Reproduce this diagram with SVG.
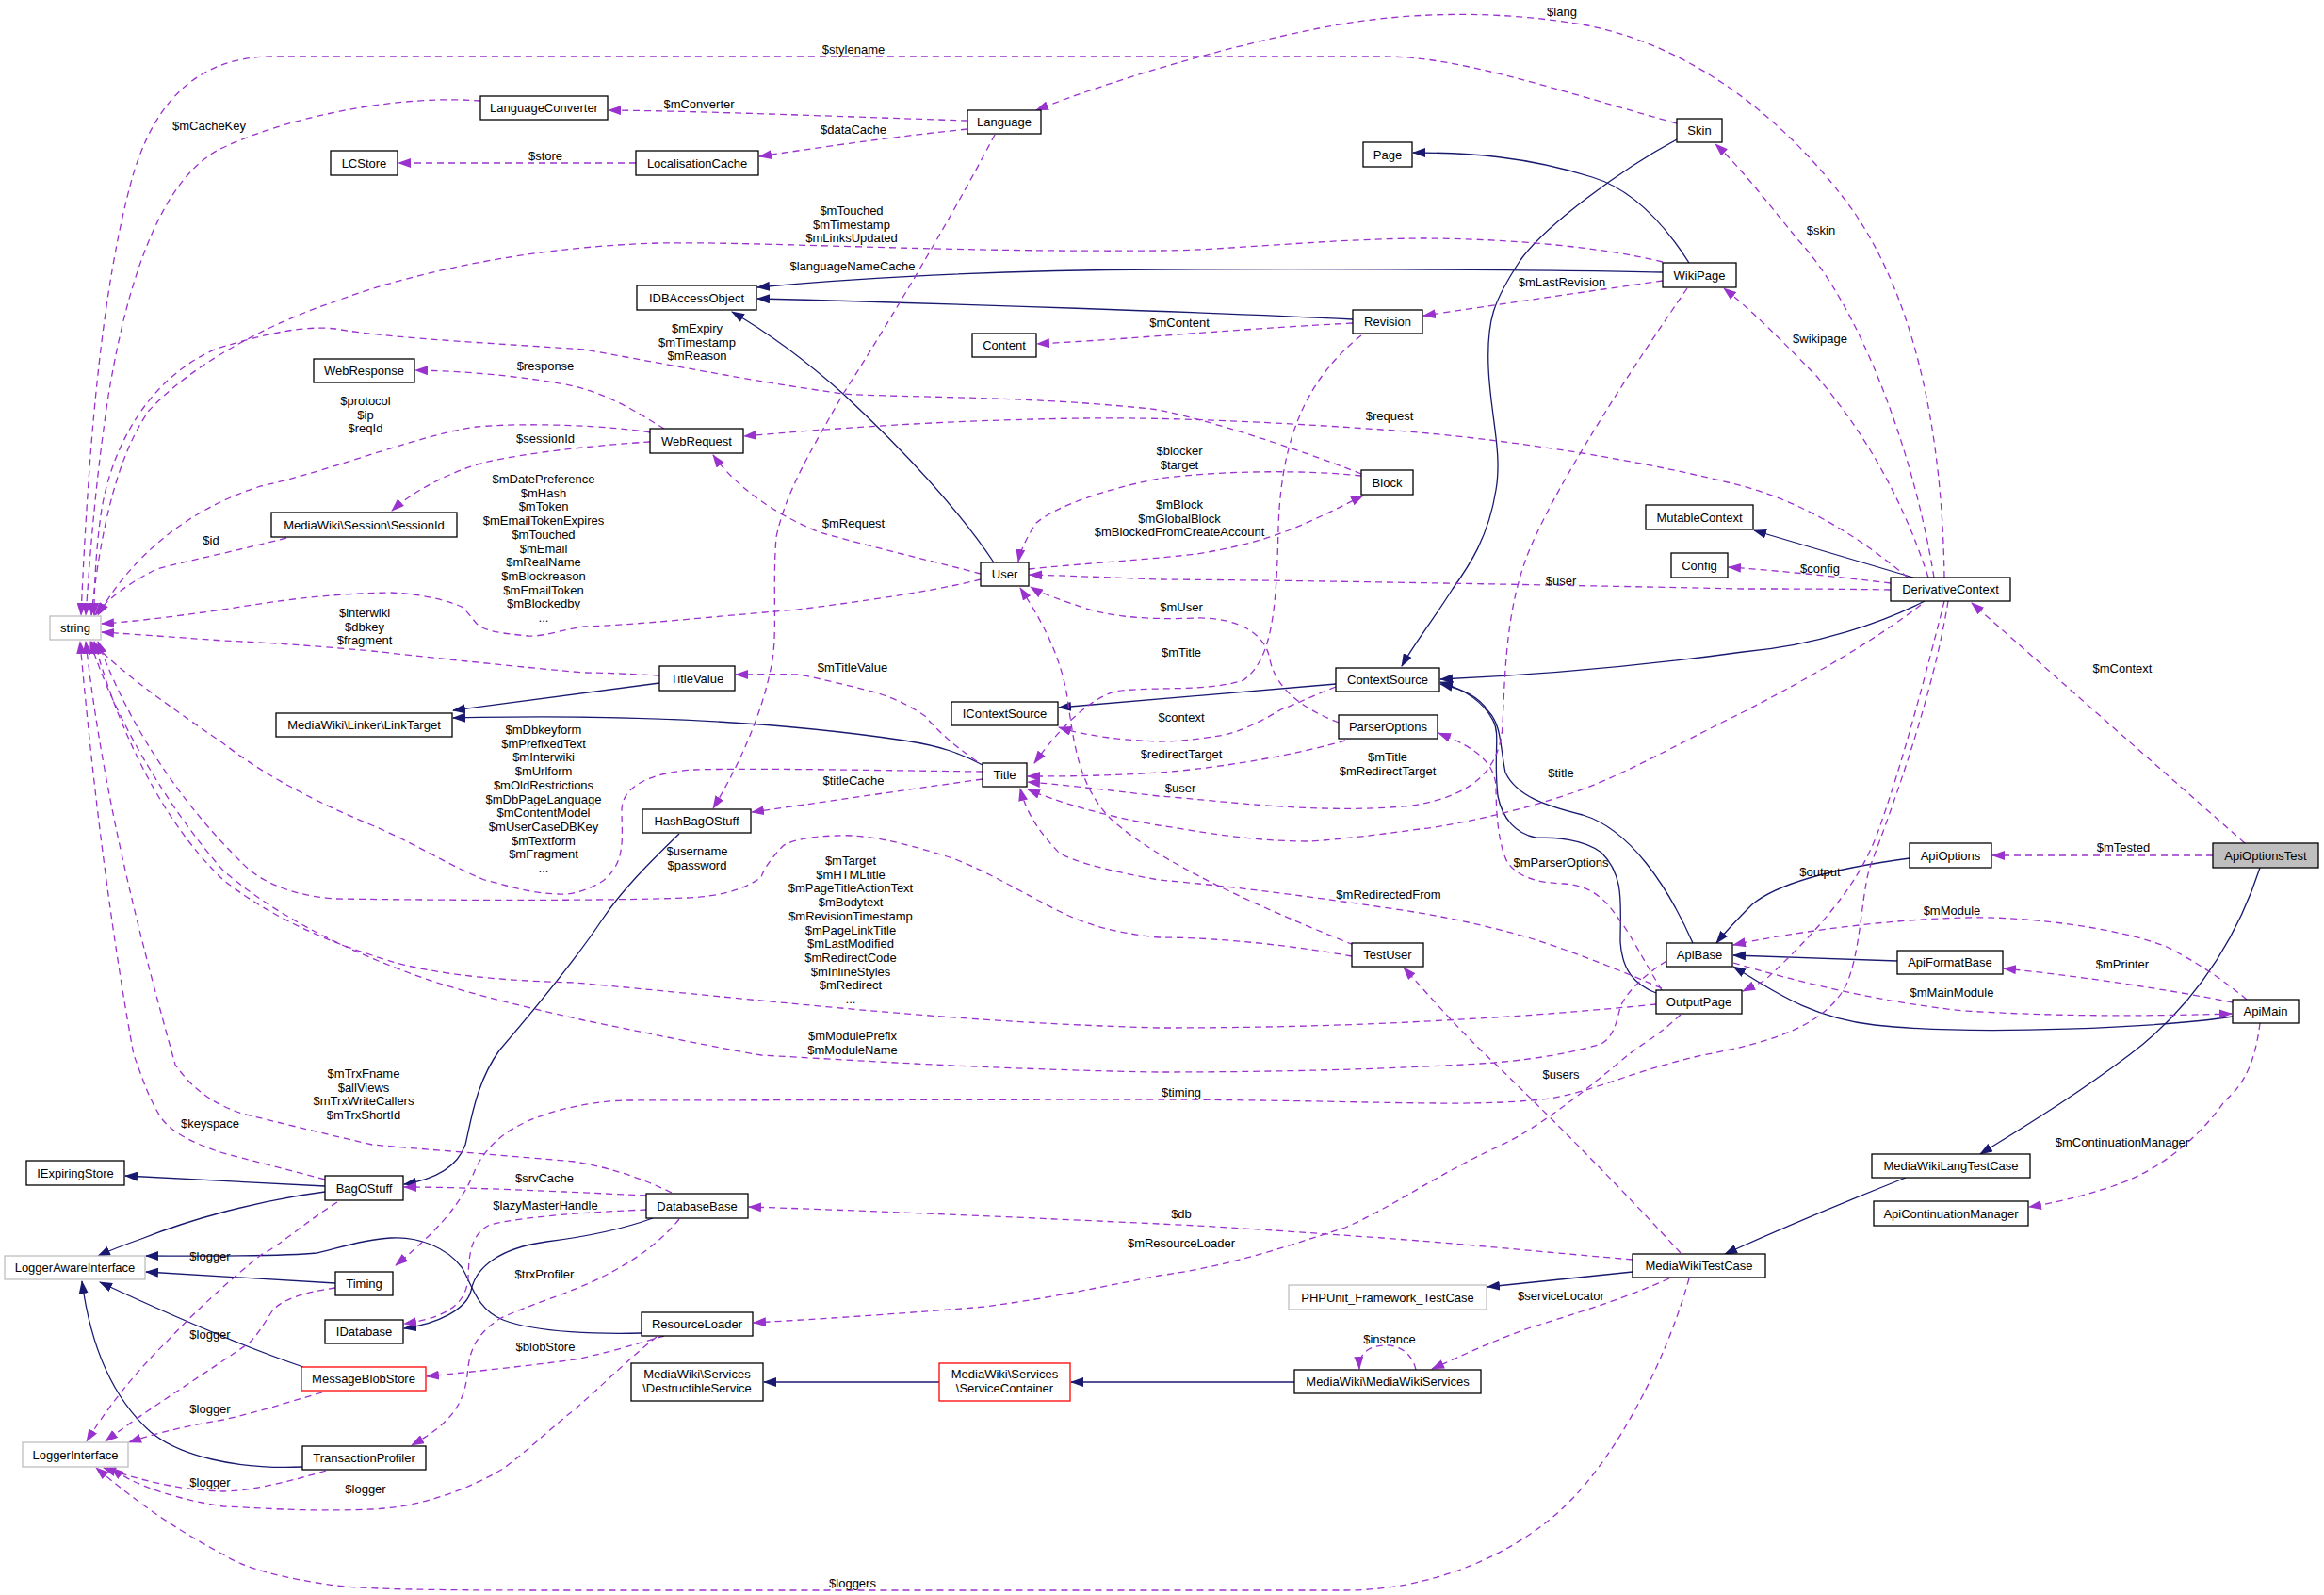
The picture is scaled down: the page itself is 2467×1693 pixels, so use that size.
<svg xmlns="http://www.w3.org/2000/svg" width="2467" height="1693" viewBox="0 0 2467 1693">
<style>
text{font-family:"Liberation Sans",Arial,Helvetica,sans-serif;font-size:13px;fill:#000;text-anchor:middle}
.n rect{fill:#fff;stroke:#000;stroke-width:1.3}
.g rect{stroke:#bfbfbf}
.r rect{stroke:#ff0000}
.cur rect{fill:#bfbfbf}
.d{fill:none;stroke:#9a32cd;stroke-width:1.3;stroke-dasharray:7,5;marker-end:url(#ap)}
.i{fill:none;stroke:#191970;stroke-width:1.3;marker-end:url(#an)}
</style>
<defs>
<marker id="ap" markerWidth="14" markerHeight="10" refX="13" refY="5" orient="auto" markerUnits="userSpaceOnUse"><path d="M0,0 L14,5 L0,10 z" fill="#9a32cd"/></marker>
<marker id="an" markerWidth="14" markerHeight="10" refX="13" refY="5" orient="auto" markerUnits="userSpaceOnUse"><path d="M0,0 L14,5 L0,10 z" fill="#191970"/></marker>
</defs>
<rect width="2467" height="1693" fill="#fff"/>
<g id="connectors">
<!-- inheritance -->
<path class="i" d="M1780,148 C1720,180 1640,240 1614,276 C1585,320 1578,340 1580,390 C1582,440 1595,480 1588,520 C1580,570 1560,600 1542,625 C1520,660 1500,685 1488,707"/>
<path class="i" d="M1793,279 C1765,235 1730,200 1690,188 C1620,166 1560,162 1500,162"/>
<path class="i" d="M1765,289 C1650,286 1400,285 1230,286 C1050,287 900,296 804,305"/>
<path class="i" d="M1436,339 C1300,332 1000,322 804,317"/>
<path class="i" d="M1055,597 C1010,530 940,460 895,418 C850,378 810,350 777,331"/>
<path class="i" d="M700,725 L481,754"/>
<path class="i" d="M1043,812 C1020,800 1000,792 960,786 C820,765 650,758 481,762"/>
<path class="i" d="M1418,726 L1124,751"/>
<path class="i" d="M2043,638 C2000,660 1930,685 1850,692 C1720,710 1600,718 1529,721"/>
<path class="i" d="M2031,613 L1862,563"/>
<path class="i" d="M1797,1001 C1770,940 1730,880 1680,865 C1640,855 1610,845 1598,820 C1592,790 1594,770 1580,755 C1570,740 1555,732 1529,726"/>
<path class="i" d="M1758,1054 C1735,1045 1722,1030 1720,1000 C1720,960 1725,930 1700,905 C1680,890 1650,889 1630,889 C1610,885 1595,870 1590,845 C1585,800 1593,780 1585,765 C1575,745 1555,732 1529,724"/>
<path class="i" d="M2027,911 C1960,920 1890,935 1860,960 C1845,975 1835,985 1822,1001"/>
<path class="i" d="M2014,1020 L1840,1014"/>
<path class="i" d="M2370,1079 C2300,1090 2100,1100 1990,1088 C1920,1080 1880,1050 1840,1026"/>
<path class="i" d="M2399,921 C2380,980 2340,1060 2260,1120 C2200,1165 2150,1195 2102,1225"/>
<path class="i" d="M2023,1250 C1960,1275 1900,1300 1831,1331"/>
<path class="i" d="M1733,1350 L1579,1366"/>
<path class="i" d="M1374,1467 L1137,1467"/>
<path class="i" d="M997,1467 L811,1467"/>
<path class="i" d="M721,885 C690,915 660,945 640,975 C610,1020 560,1080 530,1115 C505,1150 500,1190 494,1215 C485,1240 460,1252 429,1257"/>
<path class="i" d="M345,1259 L133,1248"/>
<path class="i" d="M345,1265 C270,1275 200,1295 150,1315 C130,1322 115,1328 104,1333"/>
<path class="i" d="M356,1362 L155,1350"/>
<path class="i" d="M681,1415 C640,1416 570,1415 534,1401 C505,1390 500,1360 490,1345 C475,1325 445,1312 415,1314 C380,1316 350,1328 336,1330 C300,1334 200,1333 155,1333"/>
<path class="i" d="M322,1451 C260,1430 190,1400 106,1361"/>
<path class="i" d="M321,1557 C250,1560 190,1545 160,1520 C115,1480 95,1420 87,1360"/>
<path class="i" d="M693,1293 C660,1305 620,1313 580,1318 C530,1325 505,1345 500,1370 C495,1390 465,1405 429,1410"/>
<!-- members -->
<path class="d" d="M1780,131 C1650,95 1550,60 1470,60 L290,60 C200,60 160,120 140,190 C110,300 95,450 86,653"/>
<path class="d" d="M510,107 C420,100 300,125 230,160 C160,200 130,330 115,420 C100,520 95,600 91,653"/>
<path class="d" d="M1765,278 C1700,262 1600,253 1507,253 C1400,254 1300,266 1230,266 C1000,268 800,256 700,258 C550,262 420,295 356,320 C280,345 200,390 158,436 C120,490 105,580 97,653"/>
<path class="d" d="M1445,503 C1400,485 1300,450 1230,435 C1100,420 950,422 895,418 C800,405 700,385 620,371 C540,365 420,360 356,349 C320,345 280,355 230,370 C160,400 120,470 108,540 C102,580 100,620 100,653"/>
<path class="d" d="M690,459 C650,452 560,448 506,453 C450,460 350,500 277,516 C200,540 140,590 104,653"/>
<path class="d" d="M705,455 C680,440 650,420 610,410 C560,400 500,394 441,393"/>
<path class="d" d="M690,469 C640,472 560,480 514,491 C480,500 440,520 416,542"/>
<path class="d" d="M1027,128 C900,124 750,118 646,117"/>
<path class="d" d="M1027,137 C950,145 880,155 806,166"/>
<path class="d" d="M675,173 L423,173"/>
<path class="d" d="M2064,613 C2062,480 2040,330 1968,225 C1900,130 1800,50 1685,27 C1600,12 1500,10 1400,30 C1300,50 1180,85 1100,117"/>
<path class="d" d="M2053,613 C2030,470 1970,320 1909,255 C1880,220 1850,180 1821,153"/>
<path class="d" d="M2047,613 C2020,530 1980,460 1929,400 C1890,360 1860,330 1830,306"/>
<path class="d" d="M1765,298 C1680,310 1580,325 1511,335"/>
<path class="d" d="M1436,343 C1300,350 1200,360 1101,365"/>
<path class="d" d="M1445,356 C1390,400 1360,460 1357,560 C1355,650 1350,700 1320,722 C1280,735 1220,728 1183,734 C1150,745 1120,780 1098,810"/>
<path class="d" d="M1421,767 C1390,755 1355,735 1348,700 C1343,670 1310,655 1270,656 C1220,658 1180,655 1150,645 C1125,636 1105,630 1094,623"/>
<path class="d" d="M1428,786 C1380,800 1300,815 1230,820 C1170,824 1120,824 1091,824"/>
<path class="d" d="M1791,306 C1740,380 1660,500 1625,580 C1600,640 1598,700 1595,770 C1592,820 1560,845 1500,855 C1400,865 1300,850 1230,845 C1170,838 1120,832 1091,830"/>
<path class="d" d="M2039,642 C1990,680 1920,720 1850,756 C1780,790 1720,825 1665,843 C1600,865 1530,878 1507,880 C1450,888 1400,893 1388,893 C1320,893 1260,880 1230,876 C1170,866 1120,850 1091,838"/>
<path class="d" d="M1764,1049 C1720,1030 1670,1010 1625,996 C1570,980 1520,970 1467,963 C1380,950 1300,940 1230,934 C1180,925 1140,915 1124,905 C1105,885 1090,865 1083,837"/>
<path class="d" d="M1437,1003 C1330,960 1230,915 1180,870 C1145,835 1140,790 1133,740 C1125,690 1100,650 1083,624"/>
<path class="d" d="M1435,1015 C1380,1005 1300,995 1230,995 C1180,990 1150,980 1124,967 C1080,945 1040,920 1005,909 C960,895 920,885 887,887 C850,888 835,895 831,898 C815,915 810,925 808,931 C790,945 760,952 729,953 C650,956 500,956 356,954 C300,950 270,930 257,916 C200,860 140,780 104,681"/>
<path class="d" d="M1758,1066 C1700,1072 1620,1078 1586,1080 C1500,1085 1400,1091 1230,1091 C1000,1085 800,1060 610,1043 C500,1040 440,1030 395,1014 C320,990 270,960 237,934 C180,880 130,790 100,681"/>
<path class="d" d="M1769,1020 C1745,1035 1725,1055 1720,1069 C1715,1090 1712,1100 1700,1108 C1660,1120 1620,1125 1586,1128 C1450,1137 1300,1138 1230,1138 C1050,1135 900,1125 808,1120 C750,1110 680,1095 620,1083 C540,1065 480,1050 435,1033 C360,1005 290,970 237,924 C180,860 120,760 96,681"/>
<path class="d" d="M1043,819 C950,818 800,815 737,817 C690,820 660,835 660,860 C660,890 665,915 640,935 C620,948 600,950 593,949 C560,948 540,940 514,934 C470,915 440,895 395,876 C320,845 270,815 237,789 C180,750 130,715 97,681"/>
<path class="d" d="M1041,615 C980,630 900,640 847,647 C750,655 680,663 620,665 C590,670 575,676 561,675 C530,672 515,670 506,662 C500,655 495,648 490,644 C470,635 440,630 415,629 C340,630 280,640 237,647 C180,655 140,660 108,662"/>
<path class="d" d="M700,717 C660,715 640,714 620,714 C520,705 450,697 395,691 C330,685 280,682 237,680 C180,676 140,673 108,671"/>
<path class="d" d="M304,571 C250,585 200,595 166,604 C135,620 115,635 101,653"/>
<path class="d" d="M1037,808 C1010,790 990,770 982,760 C960,745 940,738 926,734 C890,725 860,718 847,716 C820,715 800,716 781,716"/>
<path class="d" d="M1043,827 C950,840 870,852 798,862"/>
<path class="d" d="M1056,143 C1000,250 920,380 895,418 C860,480 835,520 824,570 C820,620 825,670 820,700 C810,760 780,820 757,858"/>
<path class="d" d="M1041,609 C1000,598 930,582 870,565 C820,545 780,515 757,483"/>
<path class="d" d="M1445,505 C1380,498 1290,500 1230,508 C1170,520 1120,538 1100,555 C1090,570 1083,585 1081,596"/>
<path class="d" d="M1092,604 C1150,598 1230,593 1270,588 C1320,580 1350,570 1370,562 C1400,550 1425,537 1447,526"/>
<path class="d" d="M2007,626 C1950,625 1900,625 1850,625 C1700,622 1400,616 1230,615 C1180,613 1130,611 1093,610"/>
<path class="d" d="M2007,619 C1950,612 1880,605 1835,602"/>
<path class="d" d="M2025,613 C1980,575 1920,535 1850,516 C1750,490 1600,465 1467,456 C1350,448 1250,443 1150,444 C1000,446 880,455 790,463"/>
<path class="d" d="M2064,638 C2047,705 2019,814 1992,887 C1970,945 1921,996 1874,1040 C1865,1045 1858,1048 1850,1052"/>
<path class="d" d="M2068,638 C2050,750 2000,880 1984,923 C1975,960 1975,1010 1960,1045 C1940,1085 1890,1105 1807,1120 C1720,1140 1680,1165 1625,1168 C1550,1175 1450,1168 1230,1167 L661,1168 C620,1170 580,1180 554,1193 C530,1205 515,1220 505,1240 C490,1280 460,1310 420,1343"/>
<path class="d" d="M1764,1051 C1745,1020 1730,990 1720,978 C1705,955 1690,940 1660,938 C1630,937 1610,930 1600,915 C1590,895 1588,860 1588,833 C1585,810 1570,795 1527,778"/>
<path class="d" d="M1418,729 C1390,740 1370,750 1360,753 C1340,765 1320,775 1300,780 C1270,785 1250,787 1230,787 C1180,785 1150,780 1124,772"/>
<path class="d" d="M2383,895 L2093,640"/>
<path class="d" d="M2349,908 L2115,908"/>
<path class="d" d="M2385,1061 C2360,1040 2330,1020 2300,1005 C2250,985 2150,972 2086,974 C2000,976 1900,990 1840,1003"/>
<path class="d" d="M2370,1064 C2300,1050 2200,1035 2127,1028"/>
<path class="d" d="M1840,1022 C1900,1040 2000,1065 2086,1073 C2200,1080 2300,1078 2369,1076"/>
<path class="d" d="M2399,1086 C2395,1120 2385,1150 2362,1168 C2340,1200 2300,1240 2243,1259 C2210,1270 2180,1277 2154,1281"/>
<path class="d" d="M1784,1330 C1720,1260 1640,1180 1586,1128 C1550,1095 1520,1060 1490,1027"/>
<path class="d" d="M1733,1337 C1650,1330 1550,1320 1467,1314 C1380,1308 1300,1302 1230,1299 C1100,1293 950,1286 795,1281"/>
<path class="d" d="M1784,1077 C1760,1100 1740,1110 1728,1120 C1680,1160 1630,1200 1586,1219 C1520,1250 1480,1280 1428,1303 C1360,1325 1300,1345 1230,1354 C1150,1370 1100,1380 1045,1387 C950,1395 870,1400 800,1404"/>
<path class="d" d="M1772,1357 C1720,1380 1670,1395 1625,1409 C1580,1425 1550,1440 1520,1453"/>
<path class="d" d="M1503,1454 C1500,1440 1490,1430 1475,1428 C1455,1427 1442,1435 1443,1453"/>
<path class="d" d="M1793,1357 C1770,1440 1720,1540 1665,1595 C1610,1650 1520,1688 1428,1688 L620,1688 C500,1688 400,1688 356,1683 C300,1675 260,1665 237,1650 C180,1620 140,1590 102,1558"/>
<path class="d" d="M358,1276 C320,1300 300,1320 277,1332 C230,1370 200,1400 178,1423 C140,1460 110,1500 92,1530"/>
<path class="d" d="M356,1367 C320,1372 300,1380 290,1390 C280,1405 275,1415 265,1425 C230,1450 150,1500 112,1530"/>
<path class="d" d="M342,1478 C300,1490 270,1500 237,1507 C190,1515 160,1523 137,1531"/>
<path class="d" d="M346,1561 C300,1575 260,1583 237,1583 C200,1582 160,1575 110,1558"/>
<path class="d" d="M697,1419 C670,1440 640,1470 610,1496 C580,1520 560,1540 534,1559 C490,1585 440,1600 395,1602 C320,1605 270,1600 237,1599 C180,1590 140,1575 118,1558"/>
<path class="d" d="M705,1418 C680,1425 650,1435 610,1443 C560,1450 500,1456 453,1461"/>
<path class="d" d="M686,1269 C600,1265 500,1260 429,1260"/>
<path class="d" d="M686,1284 C640,1286 560,1290 520,1300 C500,1310 498,1330 497,1355 C496,1380 480,1398 429,1405"/>
<path class="d" d="M721,1294 C700,1320 670,1340 640,1355 C600,1375 560,1385 530,1400 C500,1420 498,1440 496,1460 C492,1490 480,1510 437,1534"/>
<path class="d" d="M345,1252 C300,1240 260,1230 237,1224 C200,1212 180,1200 170,1185 C155,1160 150,1140 142,1120 C120,1000 100,850 85,681"/>
<path class="d" d="M713,1266 C680,1250 650,1240 610,1233 C520,1225 450,1220 395,1215 C330,1200 290,1190 257,1182 C220,1170 200,1150 186,1130 C150,1000 110,850 91,681"/>
<!-- labels -->
<text x="1658" y="17">$lang</text>
<text x="906" y="57">$stylename</text>
<text x="742" y="115">$mConverter</text>
<text x="222" y="138">$mCacheKey</text>
<text x="906" y="142">$dataCache</text>
<text x="579" y="170">$store</text>
<text x="904" y="228">$mTouched<tspan x="904" dy="14.7">$mTimestamp</tspan><tspan x="904" dy="14.7">$mLinksUpdated</tspan></text>
<text x="1933" y="249">$skin</text>
<text x="905" y="287">$languageNameCache</text>
<text x="1658" y="304">$mLastRevision</text>
<text x="1252" y="347">$mContent</text>
<text x="740" y="353">$mExpiry<tspan x="740" dy="14.7">$mTimestamp</tspan><tspan x="740" dy="14.7">$mReason</tspan></text>
<text x="1932" y="364">$wikipage</text>
<text x="579" y="393">$response</text>
<text x="388" y="430">$protocol<tspan x="388" dy="14.7">$ip</tspan><tspan x="388" dy="14.7">$reqId</tspan></text>
<text x="1475" y="446">$request</text>
<text x="579" y="470">$sessionId</text>
<text x="1252" y="483">$blocker<tspan x="1252" dy="14.7">$target</tspan></text>
<text x="577" y="513">$mDatePreference<tspan x="577" dy="14.7">$mHash</tspan><tspan x="577" dy="14.7">$mToken</tspan><tspan x="577" dy="14.7">$mEmailTokenExpires</tspan><tspan x="577" dy="14.7">$mTouched</tspan><tspan x="577" dy="14.7">$mEmail</tspan><tspan x="577" dy="14.7">$mRealName</tspan><tspan x="577" dy="14.7">$mBlockreason</tspan><tspan x="577" dy="14.7">$mEmailToken</tspan><tspan x="577" dy="14.7">$mBlockedby</tspan><tspan x="577" dy="14.7">...</tspan></text>
<text x="1252" y="540">$mBlock<tspan x="1252" dy="14.7">$mGlobalBlock</tspan><tspan x="1252" dy="14.7">$mBlockedFromCreateAccount</tspan></text>
<text x="906" y="560">$mRequest</text>
<text x="224" y="578">$id</text>
<text x="1932" y="608">$config</text>
<text x="1657" y="621">$user</text>
<text x="1254" y="649">$mUser</text>
<text x="387" y="655">$interwiki<tspan x="387" dy="14.7">$dbkey</tspan><tspan x="387" dy="14.7">$fragment</tspan></text>
<text x="1254" y="697">$mTitle</text>
<text x="905" y="713">$mTitleValue</text>
<text x="2253" y="714">$mContext</text>
<text x="1254" y="766">$context</text>
<text x="577" y="779">$mDbkeyform<tspan x="577" dy="14.7">$mPrefixedText</tspan><tspan x="577" dy="14.7">$mInterwiki</tspan><tspan x="577" dy="14.7">$mUrlform</tspan><tspan x="577" dy="14.7">$mOldRestrictions</tspan><tspan x="577" dy="14.7">$mDbPageLanguage</tspan><tspan x="577" dy="14.7">$mContentModel</tspan><tspan x="577" dy="14.7">$mUserCaseDBKey</tspan><tspan x="577" dy="14.7">$mTextform</tspan><tspan x="577" dy="14.7">$mFragment</tspan><tspan x="577" dy="14.7">...</tspan></text>
<text x="1254" y="805">$redirectTarget</text>
<text x="1473" y="808">$mTitle<tspan x="1473" dy="14.7">$mRedirectTarget</tspan></text>
<text x="1657" y="825">$title</text>
<text x="906" y="833">$titleCache</text>
<text x="1253" y="841">$user</text>
<text x="2254" y="904">$mTested</text>
<text x="740" y="908">$username<tspan x="740" dy="14.7">$password</tspan></text>
<text x="903" y="918">$mTarget<tspan x="903" dy="14.7">$mHTMLtitle</tspan><tspan x="903" dy="14.7">$mPageTitleActionText</tspan><tspan x="903" dy="14.7">$mBodytext</tspan><tspan x="903" dy="14.7">$mRevisionTimestamp</tspan><tspan x="903" dy="14.7">$mPageLinkTitle</tspan><tspan x="903" dy="14.7">$mLastModified</tspan><tspan x="903" dy="14.7">$mRedirectCode</tspan><tspan x="903" dy="14.7">$mInlineStyles</tspan><tspan x="903" dy="14.7">$mRedirect</tspan><tspan x="903" dy="14.7">...</tspan></text>
<text x="1657" y="920">$mParserOptions</text>
<text x="1932" y="930">$output</text>
<text x="1474" y="954">$mRedirectedFrom</text>
<text x="2072" y="971">$mModule</text>
<text x="2253" y="1028">$mPrinter</text>
<text x="2072" y="1058">$mMainModule</text>
<text x="905" y="1104">$mModulePrefix<tspan x="905" dy="15">$mModuleName</tspan></text>
<text x="386" y="1144">$mTrxFname<tspan x="386" dy="14.7">$allViews</tspan><tspan x="386" dy="14.7">$mTrxWriteCallers</tspan><tspan x="386" dy="14.7">$mTrxShortId</tspan></text>
<text x="1657" y="1145">$users</text>
<text x="1254" y="1164">$timing</text>
<text x="223" y="1197">$keyspace</text>
<text x="2253" y="1217">$mContinuationManager</text>
<text x="578" y="1255">$srvCache</text>
<text x="579" y="1284">$lazyMasterHandle</text>
<text x="1254" y="1293">$db</text>
<text x="1254" y="1324">$mResourceLoader</text>
<text x="223" y="1338">$logger</text>
<text x="578" y="1357">$trxProfiler</text>
<text x="1657" y="1380">$serviceLocator</text>
<text x="223" y="1421">$logger</text>
<text x="1475" y="1426">$instance</text>
<text x="579" y="1434">$blobStore</text>
<text x="223" y="1500">$logger</text>
<text x="223" y="1578">$logger</text>
<text x="388" y="1585">$logger</text>
<text x="905" y="1685">$loggers</text>
</g>
<g id="node-LanguageConverter" class="n"><rect x="510" y="102" width="135" height="25"/><text x="577.5" y="119">LanguageConverter</text></g>
<g id="node-LCStore" class="n"><rect x="351" y="160" width="71" height="26"/><text x="386.5" y="177.5">LCStore</text></g>
<g id="node-LocalisationCache" class="n"><rect x="675" y="160" width="130" height="26"/><text x="740" y="177.5">LocalisationCache</text></g>
<g id="node-Language" class="n"><rect x="1027" y="117" width="78" height="25"/><text x="1066" y="134">Language</text></g>
<g id="node-Skin" class="n"><rect x="1780" y="126" width="48" height="25"/><text x="1804" y="143">Skin</text></g>
<g id="node-Page" class="n"><rect x="1447" y="151" width="52" height="26"/><text x="1473" y="168.5">Page</text></g>
<g id="node-WikiPage" class="n"><rect x="1765" y="279" width="78" height="26"/><text x="1804" y="296.5">WikiPage</text></g>
<g id="node-IDBAccessObject" class="n"><rect x="676" y="303" width="127" height="26"/><text x="739.5" y="320.5">IDBAccessObject</text></g>
<g id="node-Revision" class="n"><rect x="1436" y="329" width="74" height="25"/><text x="1473" y="346">Revision</text></g>
<g id="node-Content" class="n"><rect x="1032" y="354" width="68" height="25"/><text x="1066" y="371">Content</text></g>
<g id="node-WebResponse" class="n"><rect x="333" y="381" width="107" height="25"/><text x="386.5" y="398">WebResponse</text></g>
<g id="node-WebRequest" class="n"><rect x="690" y="455" width="99" height="26"/><text x="739.5" y="472.5">WebRequest</text></g>
<g id="node-Block" class="n"><rect x="1445" y="499" width="55" height="26"/><text x="1472.5" y="516.5">Block</text></g>
<g id="node-SessionId" class="n"><rect x="288" y="544" width="197" height="26"/><text x="386.5" y="561.5">MediaWiki\Session\SessionId</text></g>
<g id="node-MutableContext" class="n"><rect x="1747" y="536" width="114" height="26"/><text x="1804" y="553.5">MutableContext</text></g>
<g id="node-Config" class="n"><rect x="1774" y="587" width="60" height="26"/><text x="1804" y="604.5">Config</text></g>
<g id="node-User" class="n"><rect x="1041" y="597" width="51" height="25"/><text x="1066.5" y="614">User</text></g>
<g id="node-DerivativeContext" class="n"><rect x="2007" y="613" width="127" height="25"/><text x="2070.5" y="630">DerivativeContext</text></g>
<g id="node-string" class="n g"><rect x="53" y="654" width="54" height="25"/><text x="80" y="671">string</text></g>
<g id="node-TitleValue" class="n"><rect x="700" y="707" width="80" height="26"/><text x="740" y="724.5">TitleValue</text></g>
<g id="node-ContextSource" class="n"><rect x="1418" y="709" width="110" height="25"/><text x="1473" y="726">ContextSource</text></g>
<g id="node-IContextSource" class="n"><rect x="1010" y="745" width="113" height="25"/><text x="1066.5" y="762">IContextSource</text></g>
<g id="node-LinkTarget" class="n"><rect x="293" y="757" width="187" height="25"/><text x="386.5" y="774">MediaWiki\Linker\LinkTarget</text></g>
<g id="node-ParserOptions" class="n"><rect x="1421" y="759" width="105" height="25"/><text x="1473.5" y="776">ParserOptions</text></g>
<g id="node-Title" class="n"><rect x="1043" y="810" width="47" height="25"/><text x="1066.5" y="827">Title</text></g>
<g id="node-HashBagOStuff" class="n"><rect x="682" y="859" width="115" height="25"/><text x="739.5" y="876">HashBagOStuff</text></g>
<g id="node-ApiOptions" class="n"><rect x="2027" y="895" width="87" height="26"/><text x="2070.5" y="912.5">ApiOptions</text></g>
<g id="node-ApiOptionsTest" class="n cur"><rect x="2349" y="895" width="112" height="26"/><text x="2405" y="912.5">ApiOptionsTest</text></g>
<g id="node-TestUser" class="n"><rect x="1435" y="1001" width="76" height="25"/><text x="1473" y="1018">TestUser</text></g>
<g id="node-ApiBase" class="n"><rect x="1769" y="1001" width="70" height="25"/><text x="1804" y="1018">ApiBase</text></g>
<g id="node-ApiFormatBase" class="n"><rect x="2014" y="1009" width="112" height="25"/><text x="2070" y="1026">ApiFormatBase</text></g>
<g id="node-OutputPage" class="n"><rect x="1758" y="1051" width="91" height="25"/><text x="1803.5" y="1068">OutputPage</text></g>
<g id="node-ApiMain" class="n"><rect x="2370" y="1061" width="70" height="25"/><text x="2405" y="1078">ApiMain</text></g>
<g id="node-MediaWikiLangTestCase" class="n"><rect x="1987" y="1225" width="168" height="25"/><text x="2071" y="1242">MediaWikiLangTestCase</text></g>
<g id="node-IExpiringStore" class="n"><rect x="28" y="1232" width="104" height="26"/><text x="80" y="1249.5">IExpiringStore</text></g>
<g id="node-BagOStuff" class="n"><rect x="345" y="1248" width="83" height="26"/><text x="386.5" y="1265.5">BagOStuff</text></g>
<g id="node-DatabaseBase" class="n"><rect x="686" y="1267" width="108" height="26"/><text x="740" y="1284.5">DatabaseBase</text></g>
<g id="node-ApiContinuationManager" class="n"><rect x="1989" y="1275" width="164" height="26"/><text x="2071" y="1292.5">ApiContinuationManager</text></g>
<g id="node-MediaWikiTestCase" class="n"><rect x="1733" y="1331" width="141" height="25"/><text x="1803.5" y="1348">MediaWikiTestCase</text></g>
<g id="node-LoggerAwareInterface" class="n g"><rect x="5" y="1333" width="149" height="25"/><text x="79.5" y="1350">LoggerAwareInterface</text></g>
<g id="node-Timing" class="n"><rect x="356" y="1350" width="61" height="25"/><text x="386.5" y="1367">Timing</text></g>
<g id="node-PHPUnit_Framework_TestCase" class="n g"><rect x="1368" y="1364" width="210" height="26"/><text x="1473" y="1381.5">PHPUnit_Framework_TestCase</text></g>
<g id="node-ResourceLoader" class="n"><rect x="681" y="1393" width="118" height="25"/><text x="740" y="1410">ResourceLoader</text></g>
<g id="node-IDatabase" class="n"><rect x="345" y="1401" width="83" height="25"/><text x="386.5" y="1418">IDatabase</text></g>
<g id="node-DestructibleService" class="n"><rect x="670" y="1447" width="140" height="40"/><text x="740" y="1463">MediaWiki\Services<tspan x="740" dy="14.5">\DestructibleService</tspan></text></g>
<g id="node-ServiceContainer" class="n r"><rect x="997" y="1447" width="139" height="40"/><text x="1066.5" y="1463">MediaWiki\Services<tspan x="1066.5" dy="14.5">\ServiceContainer</tspan></text></g>
<g id="node-MessageBlobStore" class="n r"><rect x="320" y="1451" width="132" height="25"/><text x="386" y="1468">MessageBlobStore</text></g>
<g id="node-MediaWikiServices" class="n"><rect x="1374" y="1454" width="198" height="25"/><text x="1473" y="1471">MediaWiki\MediaWikiServices</text></g>
<g id="node-LoggerInterface" class="n g"><rect x="24" y="1531" width="112" height="26"/><text x="80" y="1548.5">LoggerInterface</text></g>
<g id="node-TransactionProfiler" class="n"><rect x="321" y="1535" width="131" height="25"/><text x="386.5" y="1552">TransactionProfiler</text></g>
</svg>
